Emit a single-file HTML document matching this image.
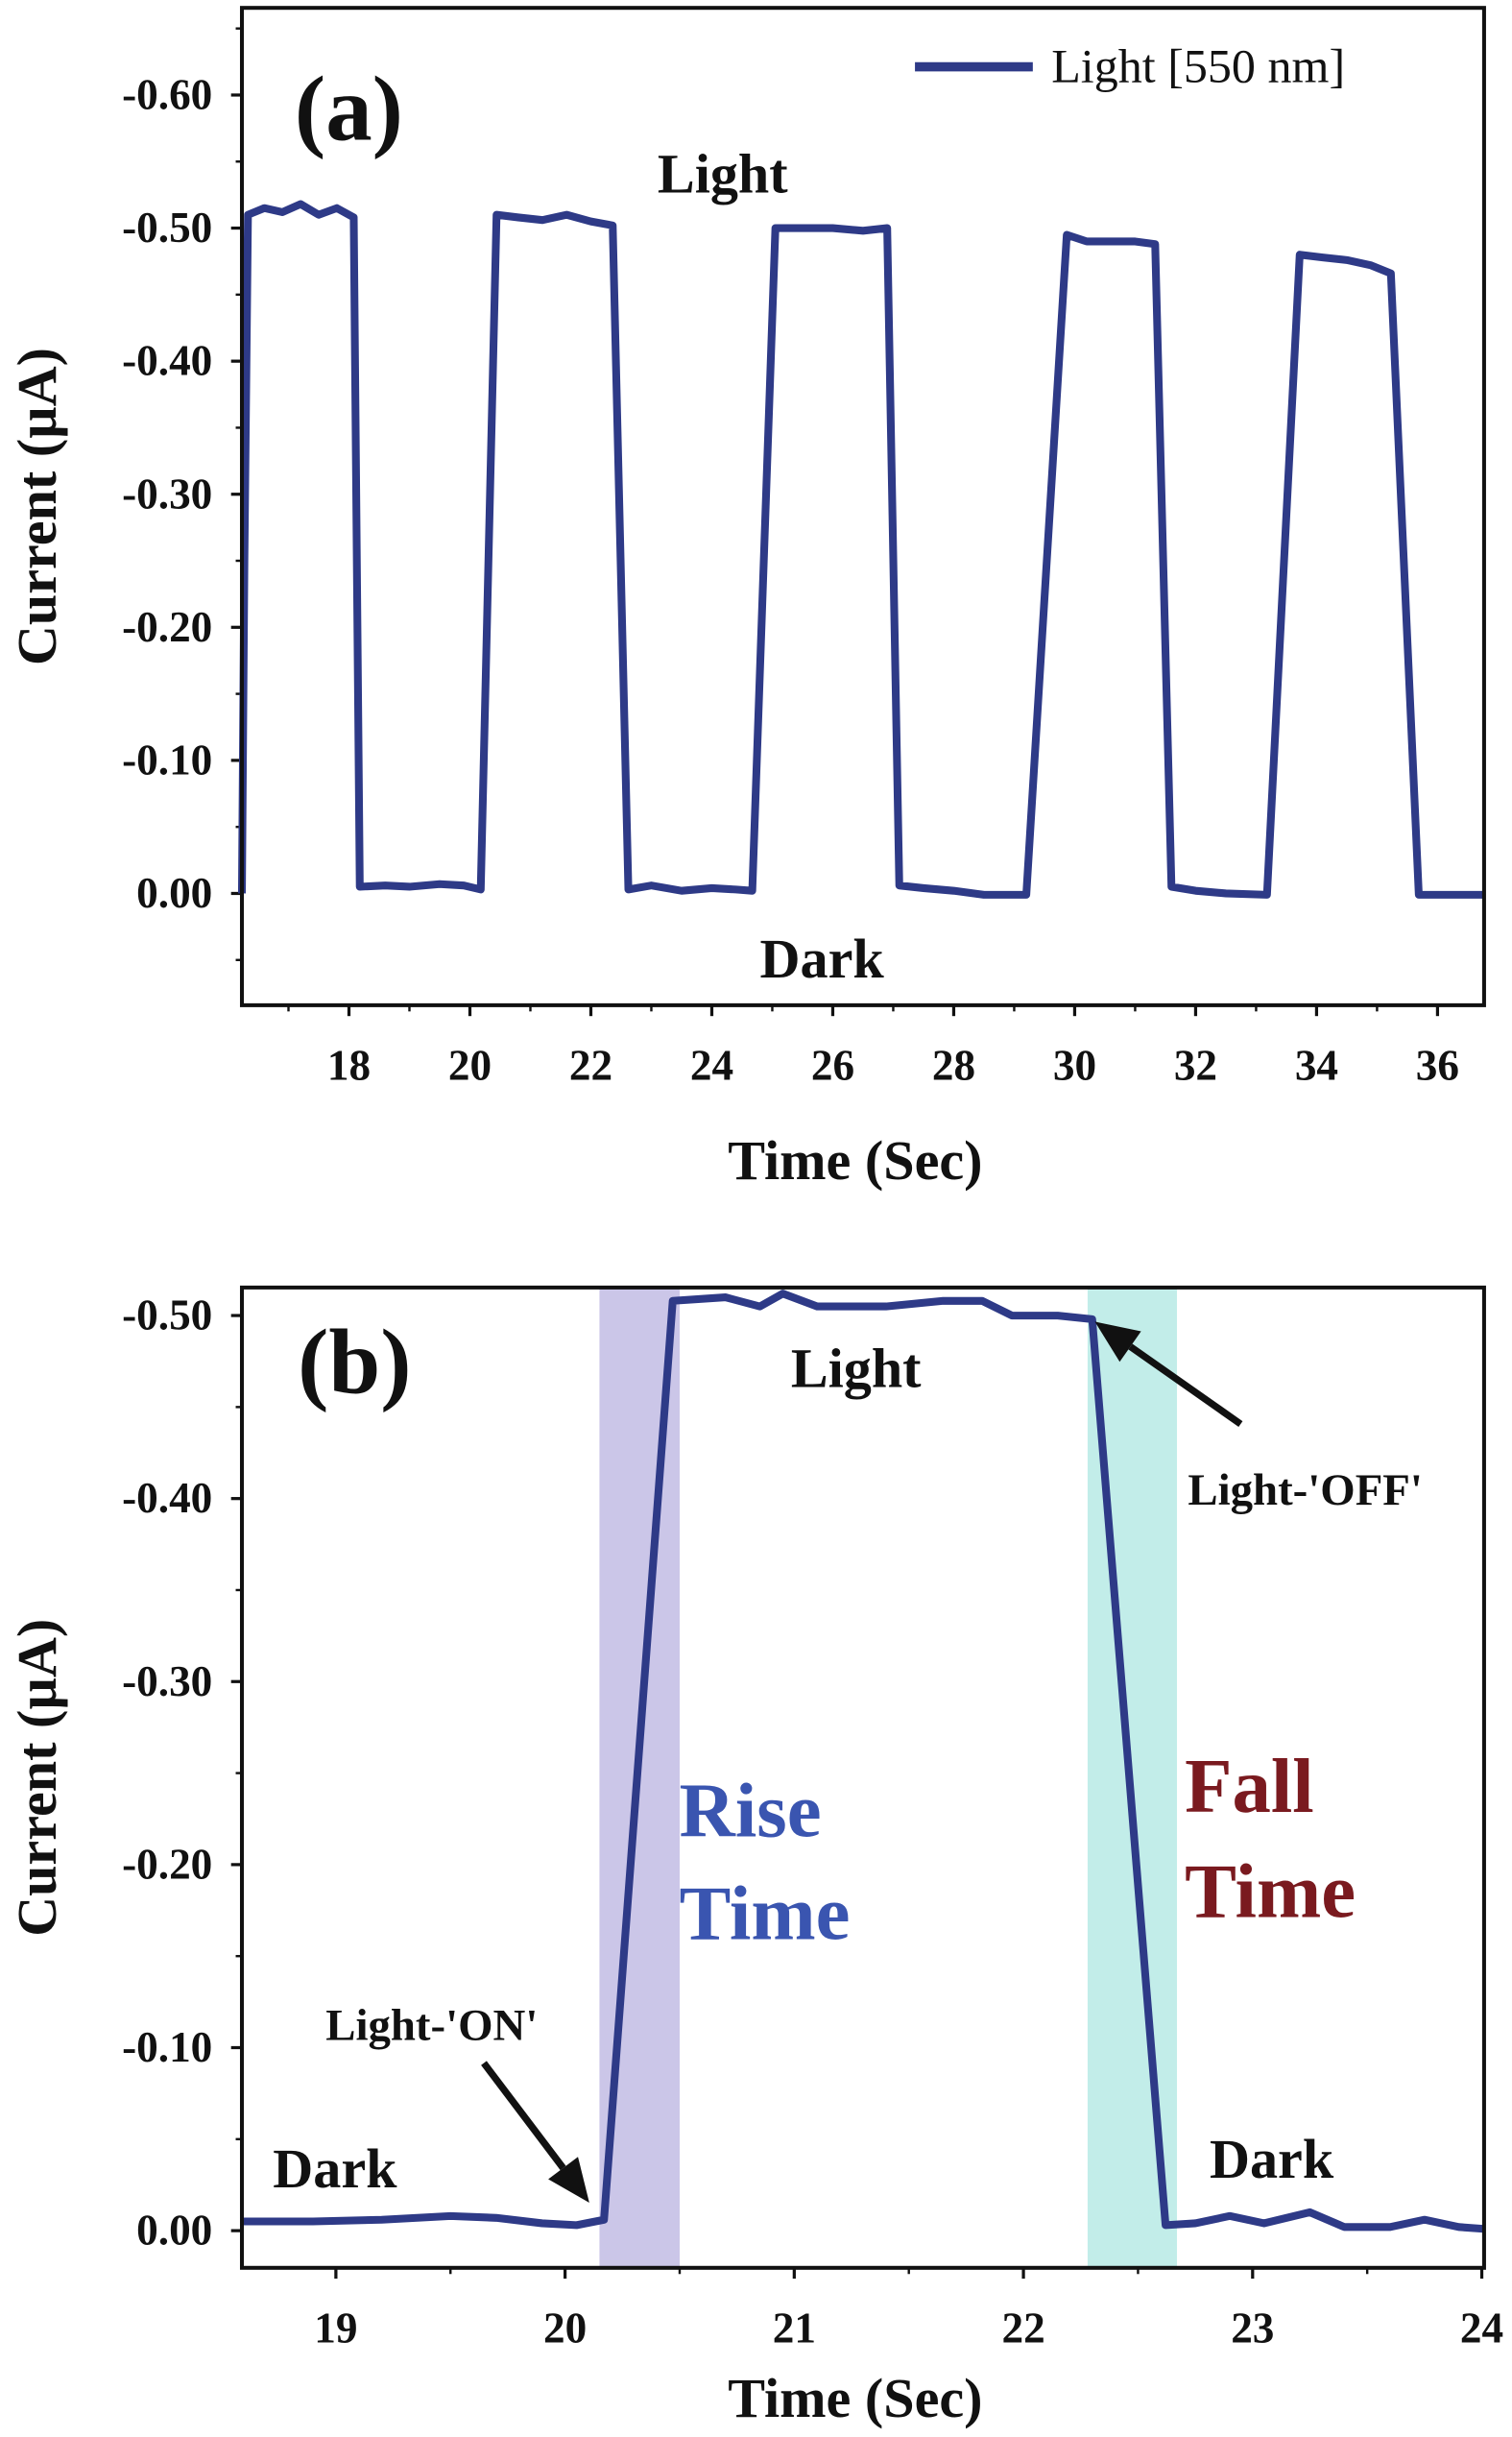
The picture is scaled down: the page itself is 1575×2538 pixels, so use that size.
<!DOCTYPE html>
<html><head><meta charset="utf-8"><style>
html,body{margin:0;padding:0;background:#fff;}
svg{display:block;font-family:"Liberation Serif",serif;}
</style></head><body>
<svg id="chart" width="1575" height="2538" viewBox="0 0 975 1571" xmlns="http://www.w3.org/2000/svg">
<g id="pa"></g>
<g id="pb"></g>
</svg>
<script>
// Panel (a) data
const aTime = [16.23,16.27,16.33,16.6,16.9,17.2,17.5,17.8,18.08,18.18,18.6,19.0,19.5,19.9,20.18,20.44,20.8,21.2,21.6,22.0,22.36,22.62,23.0,23.5,24.0,24.4,24.67,25.05,25.5,26.0,26.5,26.9,27.1,27.5,28.0,28.5,29.2,29.87,30.2,30.6,31.0,31.33,31.6,32.0,32.5,33.18,33.72,34.1,34.5,34.9,35.23,35.69,36.2,36.77];
const aCurrent = [0.0,-0.25,-0.51,-0.515,-0.512,-0.518,-0.51,-0.515,-0.508,-0.005,-0.006,-0.005,-0.007,-0.006,-0.003,-0.51,-0.508,-0.506,-0.51,-0.505,-0.502,-0.003,-0.006,-0.002,-0.004,-0.003,-0.002,-0.5,-0.5,-0.5,-0.498,-0.5,-0.006,-0.004,-0.002,0.001,0.001,-0.495,-0.49,-0.49,-0.49,-0.488,-0.005,-0.002,0.0,0.001,-0.48,-0.478,-0.476,-0.472,-0.466,0.001,0.001,0.001];
const aXTicks = [18,20,22,24,26,28,30,32,34,36];
const aYTicks = [0,-0.1,-0.2,-0.3,-0.4,-0.5,-0.6];
const aYLabels = ["0.00","-0.10","-0.20","-0.30","-0.40","-0.50","-0.60"];
// Panel (b) data
const bTime = [18.59,18.9,19.2,19.5,19.7,19.9,20.05,20.17,20.47,20.7,20.85,20.95,21.1,21.4,21.65,21.82,21.95,22.15,22.3,22.62,22.75,22.9,23.05,23.25,23.4,23.6,23.75,23.9,24.01];
const bCurrent = [-0.005,-0.005,-0.006,-0.008,-0.007,-0.004,-0.003,-0.006,-0.508,-0.51,-0.505,-0.512,-0.505,-0.505,-0.508,-0.508,-0.5,-0.5,-0.498,-0.003,-0.004,-0.008,-0.004,-0.01,-0.002,-0.002,-0.006,-0.002,-0.001];
const bXTicks = [19,20,21,22,23,24];
const bYTicks = [0,-0.1,-0.2,-0.3,-0.4,-0.5];
const bYLabels = ["0.00","-0.10","-0.20","-0.30","-0.40","-0.50"];
const bRiseBand = [20.15,20.5];
const bFallBand = [22.28,22.67];

const NS="http://www.w3.org/2000/svg";
function mk(parent,tag,attrs,txt){const e=document.createElementNS(NS,tag);for(const k in attrs)e.setAttribute(k,attrs[k]);if(txt!==undefined)e.textContent=txt;parent.appendChild(e);return e;}

function panel(g,cfg){
  const {L,R,T,B,x0,x1,y0,y1}=cfg;
  const sx=v=>L+(v-x0)/(x1-x0)*(R-L);
  const sy=v=>T+(v-y0)/(y1-y0)*(B-T);
  if(cfg.bands){cfg.bands.forEach(b=>{
    const r=mk(g,'rect',{x:sx(b.r[0]),y:T,width:sx(b.r[1])-sx(b.r[0]),height:B-T,fill:b.c});
    
    
  });}
  const ax=mk(g,'g',{});
  
  
  cfg.yT.forEach((v,i)=>{
    mk(ax,'line',{x1:L-7,x2:L,y1:sy(v),y2:sy(v),stroke:'#111','stroke-width':2});
    const t=mk(ax,'text',{x:L-19,y:sy(v)+9,'text-anchor':'end','font-size':28,'font-weight':'bold',fill:'#111'},cfg.yL[i]);
    
    
  });
  for(let v=cfg.yMinor[0];v>=cfg.yMinor[1];v-=0.1){mk(ax,'line',{x1:L-4,x2:L,y1:sy(v),y2:sy(v),stroke:'#111','stroke-width':1.5});}
  const xa=mk(g,'g',{});
  
  
  cfg.xT.forEach(v=>{
    mk(xa,'line',{x1:sx(v),x2:sx(v),y1:B,y2:B+7,stroke:'#111','stroke-width':2});
    const t=mk(xa,'text',{x:sx(v),y:B+48,'text-anchor':'middle','font-size':28,'font-weight':'bold',fill:'#111'},String(v));
    
    
  });
  cfg.xMinor.forEach(v=>mk(xa,'line',{x1:sx(v),x2:sx(v),y1:B,y2:B+4,stroke:'#111','stroke-width':1.5}));
  const d=cfg.t.map((v,i)=>(i?'L':'M')+sx(v).toFixed(1)+' '+sy(cfg.c[i]).toFixed(1)).join(' ');
  const p=mk(g,'path',{d:d,fill:'none',stroke:'#2e3a87','stroke-width':5,'stroke-linejoin':'round'});
  
  
  const f=mk(g,'rect',{x:L,y:T,width:R-L,height:B-T,fill:'none',stroke:'#111','stroke-width':2.5});
  
  
  const xt=mk(g,'text',{x:(L+R)/2-5,y:cfg.xtY,'text-anchor':'middle','font-size':36,'font-weight':'bold',fill:'#111'},'Time (Sec)');
  
  
  const yc=(T+B)/2;
  const yt=mk(g,'text',{x:0,y:0,transform:`translate(36,${yc}) rotate(-90)`,'text-anchor':'middle','font-size':36,'font-weight':'bold',fill:'#111'},'Current (µA)');
  
  
}
function label(g,x,y,s,txt,name,extra){const t=mk(g,'text',Object.assign({x:x,y:y,'font-size':s,'font-weight':'bold',fill:'#111'},extra||{}),txt);return t;}

const ga=document.getElementById('pa');
const ca={L:156,R:957,T:5,B:648,x0:16.23,x1:36.77,y0:-0.6655,y1:0.084,t:aTime,c:aCurrent,xT:aXTicks,yT:aYTicks,yL:aYLabels,yMinor:[0.05,-0.65],xMinor:[17,19,21,23,25,27,29,31,33,35],xtY:760};
panel(ga,ca);
label(ga,190,90,60,'(a)','panel-a-label');
label(ga,424,124,36,'Light','light-annotation-a');
label(ga,490,630,36,'Dark','dark-annotation-a');
const lg=mk(ga,'g',{});


mk(lg,'line',{x1:590,x2:666,y1:43,y2:43,stroke:'#2e3a87','stroke-width':6});
mk(lg,'text',{x:678,y:53,'font-size':31,fill:'#111'},'Light [550 nm]');

const gb=document.getElementById('pb');
const cb={L:156,R:957,T:830,B:1462,x0:18.59,x1:24.01,y0:-0.5153,y1:0.0203,t:bTime,c:bCurrent,xT:bXTicks,yT:bYTicks,yL:bYLabels,yMinor:[-0.05,-0.45],xMinor:[19.5,20.5,21.5,22.5,23.5],xtY:1558,
  bands:[{r:bRiseBand,c:'#cbc6e8',name:'rise-time-band'},{r:bFallBand,c:'#c2ede9',name:'fall-time-band'}]};
panel(gb,cb);
label(gb,192,898,60,'(b)','panel-b-label');
label(gb,510,894,36,'Light','light-annotation-b');
label(gb,766,970,29,"Light-'OFF'",'light-off-label');
label(gb,210,1315,29,"Light-'ON'",'light-on-label');
label(gb,176,1410,36,'Dark','dark-annotation-left');
label(gb,780,1404,36,'Dark','dark-annotation-right');
label(gb,438,1184,50,'Rise','rise-label',{fill:'#3a55b0'});
label(gb,438,1250,50,'Time','rise-time-label',{fill:'#3a55b0'});
label(gb,764,1168,50,'Fall','fall-label',{fill:'#7a1a1f'});
label(gb,764,1236,50,'Time','fall-time-label',{fill:'#7a1a1f'});
function arrow(g,x1,y1,x2,y2,name){
  const a=mk(g,'g',{});
  
  
  const ang=Math.atan2(y2-y1,x2-x1),hl=28,hw=12;
  const bx=x2-hl*Math.cos(ang),by=y2-hl*Math.sin(ang);
  mk(a,'line',{x1:x1,y1:y1,x2:bx,y2:by,stroke:'#111','stroke-width':4.5});
  const px=-Math.sin(ang)*hw,py=Math.cos(ang)*hw;
  mk(a,'polygon',{points:`${x2},${y2} ${bx+px},${by+py} ${bx-px},${by-py}`,fill:'#111'});
}
arrow(gb,800,918,706,852,'light-off-arrow');
arrow(gb,312,1330,380,1420,'light-on-arrow');
</script>
</body></html>
